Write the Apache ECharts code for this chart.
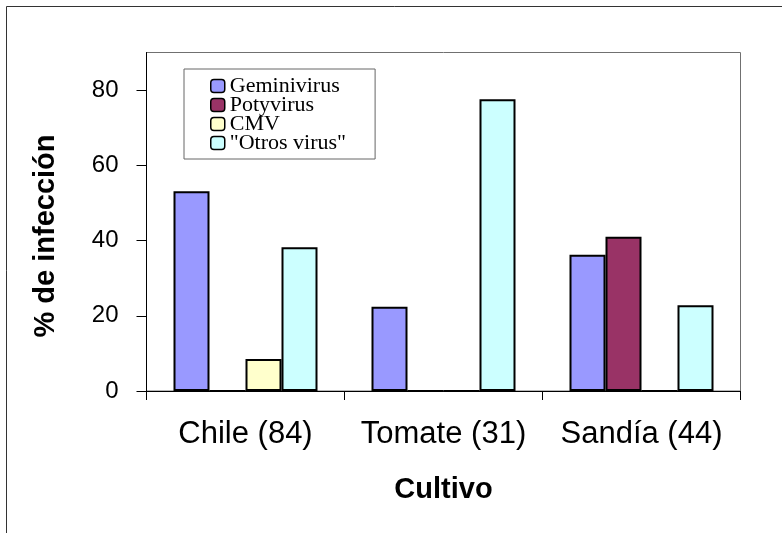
<!DOCTYPE html>
<html>
<head>
<meta charset="utf-8">
<script src="https://cdn.jsdelivr.net/npm/echarts@6/dist/echarts.min.js"></script>
<style>
  html, body { margin: 0; padding: 0; background: #fff; }
  #chart { width: 782px; height: 533px; }
</style>
</head>
<body>
<div id="chart"></div>
<script>
// Crops surveyed (sample size in parentheses)
const cultivos = ['Chile (84)', 'Tomate (31)', 'Sandía (44)'];

// Percentage of infected samples per virus group
const geminivirus = [53.1, 22.4, 36.2];
const potyvirus   = [0, 0, 41.0];
const cmv         = [8.5, 0, 0];
const otrosVirus  = [38.2, 77.6, 22.8];

const seriesNames  = ['Geminivirus', 'Potyvirus', 'CMV', '"Otros virus"'];
const seriesColors = ['#9999FF', '#993366', '#FFFFCC', '#CCFFFF'];
const seriesValues = [geminivirus, potyvirus, cmv, otrosVirus];

const yTicks = [0, 20, 40, 60, 80];

const sans = 'Liberation Sans, Arial, sans-serif';
const serif = 'Liberation Serif, Times New Roman, serif';

const chart = echarts.init(document.getElementById('chart'), null, { renderer: 'canvas' });

chart.setOption({
  animation: false,
  backgroundColor: '#fff',
  grid: {
    left: 146.5, right: 41.5, top: 52.5, bottom: 142,
    show: true, borderColor: '#707070', borderWidth: 1, backgroundColor: '#fff'
  },
  legend: {
    orient: 'vertical',
    left: 184, top: 69,
    padding: [6, 29, 5, 26],
    itemGap: -3,
    itemWidth: 14, itemHeight: 13,
    borderColor: '#666', borderWidth: 1, backgroundColor: '#fff',
    itemStyle: { borderColor: '#000', borderWidth: 1.5 },
    textStyle: { fontFamily: serif, fontSize: 22, color: '#000' },
    data: seriesNames
  },
  xAxis: {
    type: 'category',
    data: cultivos,
    name: 'Cultivo',
    nameLocation: 'middle',
    nameGap: 84,
    nameTextStyle: { fontFamily: sans, fontSize: 29, fontWeight: 'bold', color: '#000' },
    axisLine: { lineStyle: { color: '#000', width: 1 } },
    axisTick: { show: true, length: 9, alignWithLabel: false, lineStyle: { color: '#000' } },
    axisLabel: { interval: 0, fontFamily: sans, fontSize: 31, color: '#000', margin: 28 },
    splitLine: { show: false }
  },
  yAxis: {
    type: 'value',
    min: 0, max: 90, interval: 20,
    axisLine: { show: true, lineStyle: { color: '#000', width: 1 } },
    axisTick: { show: true, length: 10, customValues: yTicks, lineStyle: { color: '#000' } },
    axisLabel: { fontFamily: sans, fontSize: 24, color: '#000', margin: 28, customValues: yTicks },
    splitLine: { show: false }
  },
  graphic: [
    {
      type: 'rect',
      shape: { x: 6.5, y: 6.5, width: 900, height: 700 },
      style: { fill: null, stroke: '#333', lineWidth: 1 },
      silent: true, z: -10
    },
    {
      type: 'text',
      x: 46, y: 236,
      rotation: Math.PI / 2,
      style: {
        text: '% de infección',
        font: 'bold 29px ' + sans,
        fill: '#000',
        align: 'center',
        verticalAlign: 'middle'
      }
    }
  ],
  series: seriesNames.map((name, i) => ({
    name,
    type: 'bar',
    data: seriesValues[i],
    barWidth: 36,
    barGap: '0%',
    itemStyle: { color: seriesColors[i], borderColor: '#000', borderWidth: 2 }
  }))
});
</script>
</body>
</html>
